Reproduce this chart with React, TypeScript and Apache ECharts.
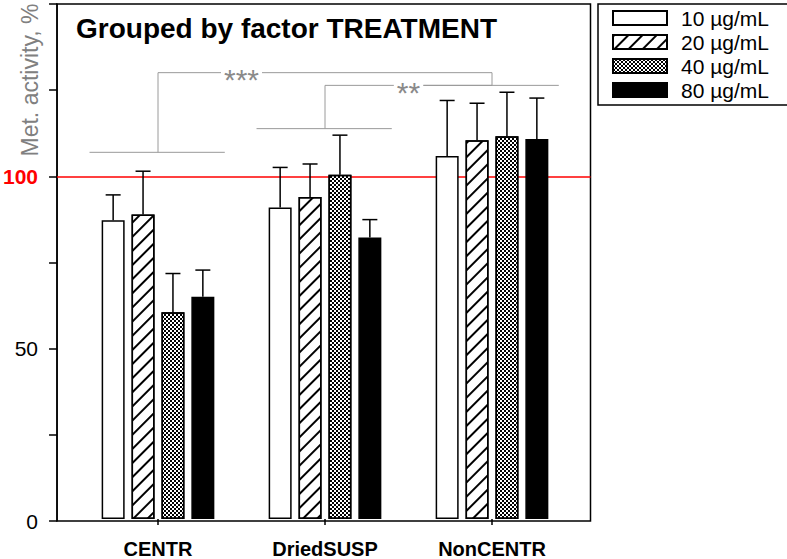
import React, { useEffect, useRef } from 'react';
import * as echarts from 'echarts';

const categories = ['CENTR', 'DriedSUSP', 'NonCENTR'];
const concentrations = ['10 µg/mL', '20 µg/mL', '40 µg/mL', '80 µg/mL'];
const mean10 = [87.0, 90.7, 105.7];
const mean20 = [88.7, 93.8, 110.3];
const mean40 = [60.2, 100.3, 111.5];
const mean80 = [64.7, 82.0, 110.7];
const upper10 = [94.4, 102.4, 121.9];
const upper20 = [101.3, 103.4, 121.1];
const upper40 = [71.5, 111.8, 124.3];
const upper80 = [72.5, 87.2, 122.6];
const yLabelTicks = [0, 50, 100];
const referenceValue = 100;
const groupLineY = [106.8, 113.7, 126.3];
const sigLabels = ['***', '**'];
const sigFrom = [0, 1];
const sigTo = [2, 2];
const sigTop = [130, 126.3];

const FONT = 'Liberation Sans, Arial, sans-serif';
const BAR_W = 23;
const BAR_GAP = 0.3;

export default function App() {
  const ref = useRef<HTMLDivElement>(null);
  useEffect(() => {
    document.body.style.margin = '0';
    const chart = echarts.init(ref.current!, null, { renderer: 'svg' });
    const means = [mean10, mean20, mean40, mean80];
    const uppers = [upper10, upper20, upper40, upper80];
    const styles: any[] = [
      { color: '#fff', borderColor: '#000', borderWidth: 1.5 },
      {
        color: '#fff', borderColor: '#000', borderWidth: 1.5,
        decal: { symbol: 'rect', symbolSize: 1, color: '#000', dashArrayX: [1, 0], dashArrayY: [2, 8], rotation: -Math.PI / 4 },
      },
      {
        color: '#fff', borderColor: '#000', borderWidth: 1.5,
        decal: { symbol: 'rect', symbolSize: 1, color: '#000', dashArrayX: [[2, 2], [0, 2, 2, 0]], dashArrayY: [2, 0] },
      },
      { color: '#000', borderColor: '#000', borderWidth: 1.5 },
    ];
    const step = BAR_W * (1 + BAR_GAP);

    const barSeries = concentrations.map((name, s) => ({
      type: 'bar',
      name,
      xAxisIndex: 1,
      yAxisIndex: 1,
      barWidth: BAR_W,
      barGap: BAR_GAP * 100 + '%',
      itemStyle: styles[s],
      z: 3,
      data: means[s],
    }));

    const errSeries = concentrations.map((name, s) => ({
      type: 'custom',
      name: 'err ' + name,
      xAxisIndex: 1,
      yAxisIndex: 1,
      z: 4,
      clip: false,
      encode: { x: 0, y: [1, 2] },
      data: categories.map((_, c) => [c, means[s][c], uppers[s][c]]),
      renderItem: (params: any, api: any) => {
        const c = api.value(0);
        const base = api.coord([c, api.value(1)]);
        const top = api.coord([c, api.value(2)]);
        const x = base[0] + (s - 1.5) * step;
        const ls = { stroke: '#000', lineWidth: 1.5 };
        return {
          type: 'group',
          children: [
            { type: 'line', shape: { x1: x, y1: base[1], x2: x, y2: top[1] }, style: ls },
            { type: 'line', shape: { x1: x - 7.5, y1: top[1], x2: x + 7.5, y2: top[1] }, style: ls },
          ],
        };
      },
    }));

    const gray = { stroke: '#9a9a9a', lineWidth: 1 };
    const groupSeries = {
      type: 'custom',
      name: 'groups',
      xAxisIndex: 1,
      yAxisIndex: 1,
      z: 4,
      clip: false,
      encode: { x: 0, y: 1 },
      data: categories.map((_, c) => [c, groupLineY[c]]),
      renderItem: (params: any, api: any) => {
        const p = api.coord([api.value(0), api.value(1)]);
        const band = api.size([1, 0])[0];
        return { type: 'line', shape: { x1: p[0] - 0.41 * band, y1: p[1], x2: p[0] + 0.4 * band, y2: p[1] }, style: gray };
      },
    };

    const sigSeries = {
      type: 'custom',
      name: 'sig',
      xAxisIndex: 1,
      yAxisIndex: 1,
      z: 5,
      clip: false,
      encode: { x: 0, y: 1 },
      data: sigLabels.map((_, i) => [sigFrom[i], sigTop[i]]),
      renderItem: (params: any, api: any) => {
        const i = params.dataIndex;
        const from = sigFrom[i];
        const to = sigTo[i];
        const band = api.size([1, 0])[0];
        const a = api.coord([from, sigTop[i]]);
        const aFoot = api.coord([from, groupLineY[from]]);
        const b = api.coord([to, sigTop[i]]);
        const bFoot = api.coord([to, groupLineY[to]]);
        const lx = a[0] + 0.5 * band;
        return {
          type: 'group',
          children: [
            { type: 'line', shape: { x1: a[0], y1: aFoot[1], x2: a[0], y2: a[1] }, style: gray },
            { type: 'line', shape: { x1: a[0], y1: a[1], x2: b[0], y2: b[1] }, style: gray },
            { type: 'line', shape: { x1: b[0], y1: b[1], x2: b[0], y2: bFoot[1] }, style: gray },
            {
              type: 'text',
              z2: 10,
              style: {
                text: sigLabels[i], x: lx, y: a[1] + 7,
                fill: '#8a8a8a', font: '30px ' + FONT,
                align: 'center', verticalAlign: 'middle', textAlign: 'center', textVerticalAlign: 'middle',
                backgroundColor: '#fff', padding: [0, 3],
              },
            },
          ],
        };
      },
    };

    const option: any = {
      animation: false,
      backgroundColor: '#fff',
      textStyle: { fontFamily: FONT },
      title: {
        text: 'Grouped by factor TREATMENT',
        left: 76,
        top: 14,
        padding: 0,
        textStyle: { fontFamily: FONT, fontSize: 28, fontWeight: 'bold', color: '#000' },
      },
      legend: {
        data: concentrations,
        orient: 'vertical',
        left: 598,
        top: 4,
        selectedMode: false,
        icon: 'rect',
        itemWidth: 54,
        itemHeight: 14,
        itemGap: 0,
        borderColor: '#000',
        borderWidth: 1.5,
        borderRadius: 0,
        padding: [2, 21, 3, 14],
        formatter: (n: string) => '{t|' + n + '}',
        textStyle: {
          fontFamily: FONT, fontSize: 21, color: '#000', lineHeight: 24,
          rich: { t: { fontFamily: FONT, fontSize: 21, color: '#000', lineHeight: 24, padding: [0, 0, 0, 9] } },
        },
      },
      graphic: [
        {
          type: 'text',
          x: 30,
          y: 80,
          rotation: Math.PI / 2,
          style: {
            text: 'Met. activity, %', fill: '#808080', font: '23px ' + FONT,
            align: 'center', verticalAlign: 'middle', textAlign: 'center', textVerticalAlign: 'middle',
          },
        },
      ],
      grid: [
        { left: 55, top: 4, width: 535.5, height: 517, show: true, borderColor: '#000', borderWidth: 1.5, backgroundColor: 'transparent' },
        { left: 74.5, top: 4, width: 501, height: 517 },
      ],
      xAxis: [
        { type: 'value', gridIndex: 0, min: 0, max: 1, show: false },
        {
          type: 'category', gridIndex: 1, data: categories,
          axisLine: { show: false },
          axisTick: { show: true, alignWithLabel: true, length: 6, lineStyle: { color: '#000', width: 1.5 } },
          axisLabel: { fontFamily: FONT, fontSize: 20, fontWeight: 'bold', color: '#000', margin: 20 },
        },
      ],
      yAxis: [
        {
          type: 'value', gridIndex: 0, min: 0, max: 150, interval: 25,
          axisLine: { show: true, lineStyle: { color: '#000', width: 1.5 } },
          axisTick: { show: true, length: 8, lineStyle: { color: '#000', width: 1.5 } },
          splitLine: { show: false },
          axisLabel: {
            margin: 19,
            fontFamily: FONT,
            fontSize: 21,
            color: '#000',
            formatter: (v: number) => (v === referenceValue ? '{r|' + v + '}' : yLabelTicks.indexOf(v) >= 0 ? String(v) : ''),
            rich: { r: { fontFamily: FONT, fontSize: 21, fontWeight: 'bold', color: '#ff0000' } },
          },
        },
        { type: 'value', gridIndex: 1, min: 0, max: 150, show: false },
      ],
      series: [
        {
          type: 'line',
          name: 'ref',
          xAxisIndex: 0,
          yAxisIndex: 0,
          data: [],
          z: 1,
          markLine: {
            silent: true,
            z: 1,
            symbol: ['none', 'none'],
            label: { show: false },
            lineStyle: { color: '#ff0000', width: 1.5, type: 'solid' },
            data: [{ yAxis: referenceValue }],
          },
        },
        ...barSeries,
        ...errSeries,
        groupSeries,
        sigSeries,
      ],
    };
    chart.setOption(option);
    return () => chart.dispose();
  }, []);
  return <div ref={ref} style={{ width: 787, height: 559 }} />;
}
